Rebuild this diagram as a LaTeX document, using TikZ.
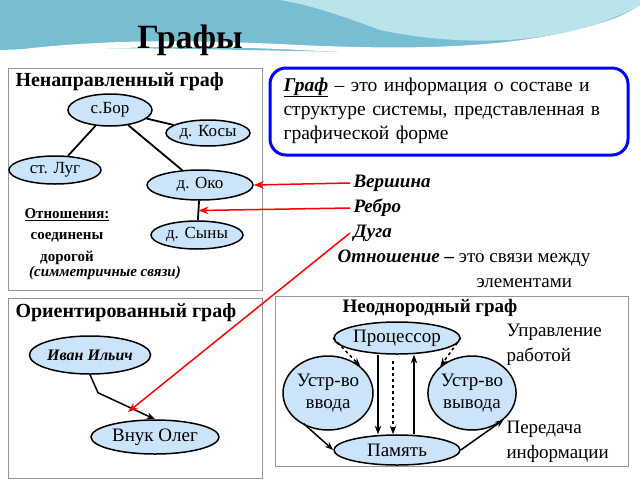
\documentclass[tikz,border=0pt]{standalone}
\usepackage{fontspec}
\setmainfont{Liberation Serif}
\usetikzlibrary{positioning, arrows.meta, shapes.geometric, calc}
\definecolor{nodefill}{RGB}{204,228,250}
\definecolor{teal1}{RGB}{120,190,210}
\definecolor{teal2}{RGB}{185,228,236}
\definecolor{panelgray}{RGB}{150,150,150}
\tikzset{
  vert/.style={ellipse, draw, line width=1.5pt, fill=nodefill, inner sep=0pt, font=\fontsize{17}{17}\selectfont},
  panel/.style={draw=panelgray, line width=0.8pt},
  redarrow/.style={draw=red, line width=1.5pt, -{Stealth[length=3.5mm]}},
  edge/.style={line width=1.8pt},
  darc/.style={line width=1.5pt, -{Stealth[length=3mm]}},
  hdr/.style={font=\fontsize{20}{20}\selectfont\bfseries, anchor=west},
}
\begin{document}
\begin{tikzpicture}[x=1pt, y=-1pt]
    \useasboundingbox (0,0) rectangle (640,480);
    % fond
    \fill[teal1] (0,0) -- (640,0) -- (640,5) .. controls (520,80) and (300,40) .. (0,50) -- cycle;
    \fill[teal2] (280,0) -- (640,0) -- (640,5) .. controls (560,50) and (450,45) .. (380,30) .. controls (340,15) and (310,5) .. (280,0) -- cycle;
    \fill[white] (0,52) .. controls (100,38) and (200,40) .. (300,45) .. controls (450,52) and (560,45) .. (640,8) -- (640,13) .. controls (560,52) and (450,58) .. (300,50) .. controls (200,45) and (100,45) .. (0,58) -- cycle;
    \node[font=\fontsize{34}{34}\selectfont\bfseries] (title) at (190,40) {Графы};

    % Ненаправленный граф
    \draw[panel] (8,68) rectangle (262,290);
    \node[hdr] (h1) at (12,82) {Ненаправленный граф};
    \node[vert, minimum width=84pt, minimum height=32pt] (bor) at (110,110) {с.Бор};
    \node[vert, minimum width=84pt, minimum height=26pt] (kosy) at (208,133) {д. Косы};
    \node[vert, minimum width=92pt, minimum height=28pt] (lug) at (55,170) {ст. Луг};
    \node[vert, minimum width=106pt, minimum height=30pt] (oko) at (200,185) {д. Око};
    \node[vert, minimum width=92pt, minimum height=28pt] (syny) at (197,235) {д. Сыны};
    \draw[edge] (bor) -- (kosy);
    \draw[edge] (bor) -- (lug);
    \draw[edge] (bor) -- (oko);
    \draw[edge] (oko) -- (syny);
    \coordinate (rebro) at ($(oko.south)!0.5!(syny.north)$);
    \node[font=\fontsize{15}{15}\selectfont\bfseries] (rel) at (67,215) {\underline{Отношения:}};
    \node[font=\fontsize{15}{15}\selectfont\bfseries] (rel2) at (67,237) {соединены};
    \node[font=\fontsize{15}{15}\selectfont\bfseries] (rel3) at (67,258) {дорогой};
    \node[font=\fontsize{15}{15}\selectfont\bfseries\itshape] (rel4) at (105,273) {(симметричные связи)};

    % Определение
    \draw[blue, line width=3pt, rounded corners=16pt] (270,68) rectangle (628,155);
    \node[anchor=north west, text width=345pt, align=left, font=\fontsize{19.5}{24}\selectfont] (def) at (280,74)
      {\textbf{\textit{\underline{Граф}}} – это информация о составе и структуре системы, представленная в графической форме};

    % Термины
    \node[anchor=west, font=\fontsize{19}{19}\selectfont\bfseries\itshape] (vers) at (350,183) {Вершина};
    \node[anchor=west, font=\fontsize{19}{19}\selectfont\bfseries\itshape] (reb) at (350,208) {Ребро};
    \node[anchor=west, font=\fontsize{19}{19}\selectfont\bfseries\itshape] (duga) at (350,233) {Дуга};
    \node[anchor=west, font=\fontsize{19}{19}\selectfont] (otn) at (334,258) {\textbf{\textit{Отношение –}} это связи между};
    \node[anchor=west, font=\fontsize{19}{19}\selectfont] (otn2) at (473,283) {элементами};

    % Ориентированный граф
    \draw[panel] (8,298) rectangle (262,478);
    \node[hdr] (h2) at (12,313) {Ориентированный граф};
    \node[vert, minimum width=118pt, minimum height=38pt, font=\fontsize{16}{16}\selectfont\bfseries\itshape] (ivan) at (90,355) {Иван Ильич};
    \node[vert, minimum width=128pt, minimum height=34pt, font=\fontsize{19}{19}\selectfont] (oleg) at (155,437) {Внук Олег};
    \draw[darc] (ivan.south) -- ++(8,18) -- (oleg.north);
    \coordinate (dugapt) at (128,412);

    % Красные стрелки
    \draw[redarrow] (vers.west) -- (oko.east);
    \draw[redarrow] (reb.west) -- (rebro);
    \draw[redarrow] (duga.west) -- (dugapt);

    % Неоднородный граф
    \draw[panel] (275,296) rectangle (628,466);
    \node[font=\fontsize{19}{19}\selectfont\bfseries] (h3) at (430,308) {Неоднородный граф};
    \node[vert, minimum width=126pt, minimum height=32pt, font=\fontsize{19}{19}\selectfont] (cpu) at (397,338) {Процессор};
    \node[vert, minimum width=90pt, minimum height=74pt, align=center, font=\fontsize{19}{22}\selectfont] (inp) at (328,393) {Устр-во\\ввода};
    \node[vert, minimum width=82pt, minimum height=74pt, align=center, font=\fontsize{19}{22}\selectfont] (outp) at (472,393) {Устр-во\\вывода};
    \node[vert, minimum width=126pt, minimum height=30pt, font=\fontsize{19}{19}\selectfont] (mem) at (397,450) {Память};
    \node[anchor=west, align=left, font=\fontsize{19}{25}\selectfont] (upr) at (503,345) {Управление\\работой};
    \node[anchor=west, align=left, font=\fontsize{19}{25}\selectfont] (per) at (503,442) {Передача\\информации};
    \draw[darc, dashed] (cpu.west) -- (inp.north east);
    \draw[darc, dashed] (cpu.east) -- (outp.north west);
    \draw[darc] (cpu.south -| 378,0) -- (mem.north -| 378,0);
    \draw[darc, dashed] ($(cpu.south)+(-4,6)$) -- (mem.north -| 393,0);
    \draw[darc] (mem.north -| 414,0) -- (cpu.south -| 414,0);
    \draw[darc] (inp.south west) ++(8,4) -- (mem.west);
    \draw[darc] (mem.east) -- (outp.south east);
\end{tikzpicture}
\end{document}
